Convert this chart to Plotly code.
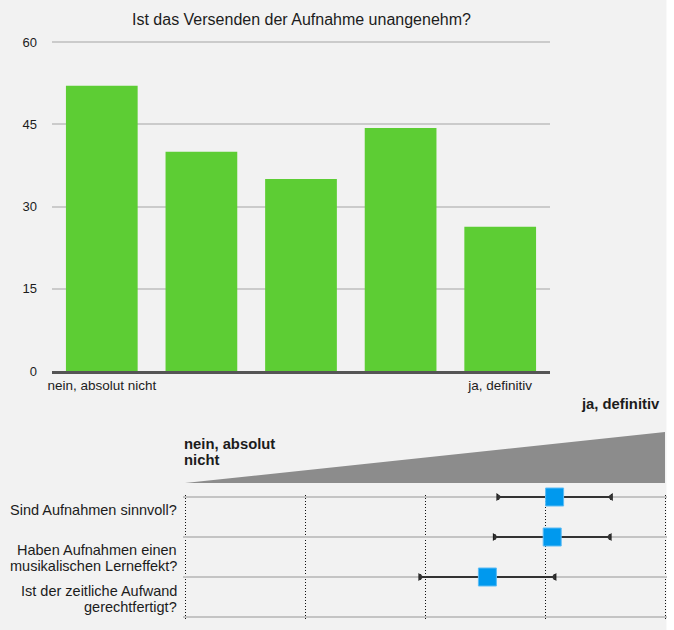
import plotly.graph_objects as go

W, H = 674, 630

# ---- data: top bar chart ----
bar_positions = [1, 2, 3, 4, 5]
bar_values = [52, 40, 35, 44.3, 26.3]
bar_tick_positions = [1, 5]
bar_tick_labels = ["nein, absolut nicht", "ja, definitiv"]
y_ticks = [0, 15, 30, 45, 60]
chart_title = "Ist das Versenden der Aufnahme unangenehm?"

# ---- data: bottom scale chart ----
questions = [
    "Sind Aufnahmen sinnvoll?",
    "Haben Aufnahmen einen\nmusikalischen Lerneffekt?",
    "Ist der zeitliche Aufwand\ngerechtfertigt?",
]
row_positions = [3, 2, 1]
means = [4.08, 4.06, 3.52]
spreads = [0.47, 0.48, 0.56]
scale_ticks = [1, 2, 3, 4, 5]
scale_low_label = ["nein, absolut", "nicht"]
scale_high_label = "ja, definitiv"

FONT = "Liberation Sans, Arial, Helvetica, sans-serif"
TXT = "#1c1c1c"


def px_x(v):
    return v / W


def px_y(v):
    return 1 - v / H


fig = go.Figure()

fig.add_trace(go.Bar(
    x=bar_positions, y=bar_values, marker=dict(color="#5dcd34", line=dict(width=0)),
    xaxis="x", yaxis="y", hoverinfo="skip",
))

# error-bar end caps (inward pointing triangles)
fig.add_trace(go.Scatter(
    x=[m - s for m, s in zip(means, spreads)], y=row_positions, mode="markers",
    marker=dict(symbol="triangle-right", size=7, color="#111111"),
    xaxis="x2", yaxis="y2", cliponaxis=False, hoverinfo="skip",
))
fig.add_trace(go.Scatter(
    x=[m + s for m, s in zip(means, spreads)], y=row_positions, mode="markers",
    marker=dict(symbol="triangle-left", size=7, color="#111111"),
    xaxis="x2", yaxis="y2", cliponaxis=False, hoverinfo="skip",
))
fig.add_trace(go.Scatter(
    x=means, y=row_positions, mode="markers",
    marker=dict(symbol="square", size=18, color="#0099ee", line=dict(color="#5cbcf5", width=1)),
    error_x=dict(type="data", array=spreads, color="#333333", thickness=2, width=3),
    xaxis="x2", yaxis="y2", cliponaxis=False, hoverinfo="skip",
))

annotations = [
    dict(text=chart_title, x=px_x(301), y=px_y(19), xref="paper", yref="paper",
         xanchor="center", yanchor="middle", showarrow=False,
         font=dict(size=16, color=TXT, family=FONT)),
    dict(text="<b>%s</b>" % scale_high_label, x=px_x(662), y=px_y(404), xref="paper", yref="paper",
         xanchor="right", yanchor="middle", showarrow=False,
         font=dict(size=14.8, color=TXT, family=FONT)),
]
for i, line in enumerate(scale_low_label):
    annotations.append(dict(text="<b>%s</b>" % line, x=px_x(182), y=px_y(444 + 16 * i),
                            xref="paper", yref="paper", xanchor="left", yanchor="middle",
                            showarrow=False, font=dict(size=14.8, color=TXT, family=FONT)))

label_centers = [510, 558, 599]
for q, c in zip(questions, label_centers):
    lines = q.split("\n")
    n = len(lines)
    for j, line in enumerate(lines):
        yy = c + (j - (n - 1) / 2) * 16
        annotations.append(dict(text=line, x=px_x(179), y=px_y(yy), xref="paper", yref="paper",
                                xanchor="right", yanchor="middle", showarrow=False,
                                font=dict(size=14.5, color=TXT, family=FONT)))

shapes = [
    dict(type="rect", xref="paper", yref="paper", x0=px_x(666.5), x1=1, y0=0, y1=1,
         fillcolor="white", line=dict(width=0), layer="below"),
    dict(type="path", xref="paper", yref="paper",
         path="M %f %f L %f %f L %f %f Z" % (px_x(185), px_y(483), px_x(665), px_y(432), px_x(665), px_y(483)),
         fillcolor="#8c8c8c", line=dict(width=0), layer="below"),
]

fig.update_layout(
    width=W, height=H, margin=dict(l=0, r=0, t=0, b=0, pad=0, autoexpand=False),
    paper_bgcolor="#f2f2f2", plot_bgcolor="rgba(0,0,0,0)",
    showlegend=False, bargap=0.28,
    font=dict(family=FONT, color=TXT, size=13),
    annotations=annotations, shapes=shapes,
    xaxis=dict(domain=[px_x(52), px_x(550)], range=[0.5, 5.5], tickmode="array",
               tickvals=bar_tick_positions, ticktext=bar_tick_labels, ticks="",
               showgrid=False, zeroline=False, showline=True, linecolor="#555555", linewidth=2.5,
               layer="below traces", tickfont=dict(size=13.5, color=TXT), fixedrange=True,
               automargin=False),
    yaxis=dict(domain=[px_y(371), px_y(39.26)], range=[0, 60.5], tickmode="array",
               tickvals=y_ticks, ticks="", showgrid=True, gridcolor="#cbcbcb", gridwidth=2,
               zeroline=False, showline=False, ticklabelstandoff=14,
               tickfont=dict(size=13, color=TXT), layer="below traces", fixedrange=True,
               automargin=False),
    xaxis2=dict(domain=[px_x(182.6), px_x(667.4)], range=[0.98, 5.02], anchor="y2",
                tickmode="array", tickvals=scale_ticks, showticklabels=False, ticks="",
                showgrid=True, gridcolor="#111111", gridwidth=1, griddash="1px,2px",
                zeroline=False, showline=False, fixedrange=True, automargin=False),
    yaxis2=dict(domain=[px_y(619), px_y(495)], range=[-0.05, 3.05], anchor="x2",
                tickmode="array", tickvals=[0, 1, 2, 3], showticklabels=False, ticks="",
                showgrid=True, gridcolor="#c4c4c4", gridwidth=2,
                zeroline=False, showline=False, fixedrange=True, automargin=False),
)

fig.write_html(
    "out.html",
    config={"displayModeBar": False},
    post_script="document.body.style.margin='0';document.body.style.overflow='hidden';",
)
